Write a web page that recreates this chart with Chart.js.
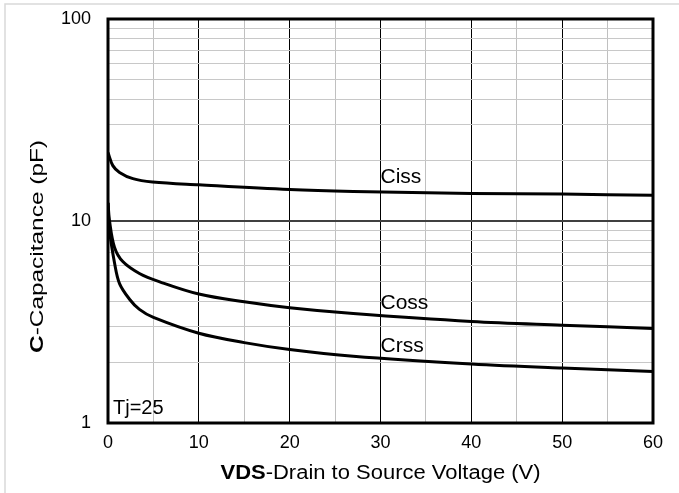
<!DOCTYPE html>
<html>
<head>
<meta charset="utf-8">
<script src="https://cdn.jsdelivr.net/npm/chart.js@4"></script>
<style>
html,body{margin:0;padding:0;background:#fff;}
canvas{display:block;}
</style>
</head>
<body>
<canvas id="c" width="679" height="493"></canvas>
<script>
// ---- data ----
const cissV = [0, 0.53, 1.27, 2.74, 4.9, 10, 20, 27, 40, 50, 60];
const cissC = [21.8, 18.8, 17.4, 16.2, 15.6, 15.1, 14.3, 14.0, 13.7, 13.6, 13.4];
const cossV = [0, 0.17, 0.72, 1.63, 3.46, 5.7, 10, 15, 20, 27, 40, 50, 60];
const cossC = [12.3, 10.0, 7.4, 6.3, 5.5, 5.0, 4.35, 3.98, 3.72, 3.48, 3.18, 3.05, 2.94];
const crssV = [0, 0.17, 0.72, 1.27, 2.37, 3.46, 5.0, 10, 15, 20, 27, 40, 50, 60];
const crssC = [12.3, 9.0, 6.2, 4.9, 4.1, 3.65, 3.33, 2.78, 2.50, 2.31, 2.14, 1.96, 1.87, 1.80];
const seriesNames = ['Ciss', 'Coss', 'Crss'];
const xTickLabels = [0, 10, 20, 30, 40, 50, 60];
const yTickLabels = [1, 10, 100];
const yGridValues = [1,2,3,4,5,6,7,8,9,10,20,30,40,50,60,70,80,90,100];
// label anchors in data units (V, pF)
const labelV = [30, 30, 30];
const labelC = [15.4, 3.67, 2.24];
const noteText = 'Tj=25';
const xTitleBold = 'VDS', xTitleRest = '-Drain to Source Voltage (V)';
const yTitleBold = 'C', yTitleRest = '-Capacitance (pF)';

const FONT = '"Liberation Sans", Arial, sans-serif';
const pts = (xs, ys) => xs.map((x, i) => ({x: x, y: ys[i]}));

const decor = {
  id: 'decor',
  beforeDraw(chart) {
    const ctx = chart.ctx;
    ctx.save();
    ctx.fillStyle = '#fff';
    ctx.fillRect(0, 0, chart.width, chart.height);
    ctx.strokeStyle = '#d9d9d9';
    ctx.lineWidth = 1.5;
    ctx.beginPath();
    ctx.moveTo(5, chart.height);
    ctx.lineTo(5, 4);
    ctx.lineTo(chart.width, 4);
    ctx.stroke();
    ctx.restore();
  },
  afterDatasetsDraw(chart) {
    const ctx = chart.ctx, a = chart.chartArea;
    const xs = chart.scales.x, ys = chart.scales.y;
    ctx.save();
    ctx.strokeStyle = '#000';
    ctx.lineWidth = 3;
    ctx.strokeRect(a.left, a.top, a.right - a.left, a.bottom - a.top);
    ctx.fillStyle = '#000';
    ctx.textBaseline = 'alphabetic';
    ctx.textAlign = 'left';
    ctx.font = '21px ' + FONT;
    seriesNames.forEach((n, i) => {
      ctx.fillText(n, xs.getPixelForValue(labelV[i]), ys.getPixelForValue(labelC[i]));
    });
    ctx.font = '20px ' + FONT;
    ctx.fillText(noteText, a.left + 5, a.bottom - 9);
    ctx.restore();
  },
  afterDraw(chart) {
    const ctx = chart.ctx, a = chart.chartArea;
    ctx.save();
    ctx.fillStyle = '#000';
    ctx.textBaseline = 'alphabetic';
    ctx.font = 'bold 20px ' + FONT;
    const wb = ctx.measureText(xTitleBold).width;
    ctx.font = '20px ' + FONT;
    const wr = ctx.measureText(xTitleRest).width;
    const targetW = 320;
    const sx = targetW / (wb + wr);
    const cx = (a.left + a.right) / 2;
    ctx.translate(cx - targetW / 2, 479);
    ctx.scale(sx, 1);
    ctx.font = 'bold 20px ' + FONT;
    ctx.fillText(xTitleBold, 0, 0);
    ctx.font = '20px ' + FONT;
    ctx.fillText(xTitleRest, wb, 0);
    ctx.restore();
    ctx.save();
    ctx.fillStyle = '#000';
    ctx.font = 'bold 19px ' + FONT;
    const yb = ctx.measureText(yTitleBold).width;
    ctx.font = '19px ' + FONT;
    const yr = ctx.measureText(yTitleRest).width;
    const targetH = 213;
    const sy = targetH / (yb + yr);
    const cy = 246.5;
    ctx.translate(43, cy + targetH / 2);
    ctx.rotate(-Math.PI / 2);
    ctx.scale(sy, 1);
    ctx.font = 'bold 19px ' + FONT;
    ctx.fillText(yTitleBold, 0, 0);
    ctx.font = '19px ' + FONT;
    ctx.fillText(yTitleRest, yb, 0);
    ctx.restore();
  }
};

const ds = (label, data) => ({
  label: label, data: data, borderColor: '#000', borderWidth: 3,
  pointRadius: 0, fill: false, tension: 0.35
});

new Chart(document.getElementById('c'), {
  type: 'line',
  data: {
    datasets: [
      ds(seriesNames[0], pts(cissV, cissC)),
      ds(seriesNames[1], pts(cossV, cossC)),
      ds(seriesNames[2], pts(crssV, crssC))
    ]
  },
  options: {
    responsive: false,
    devicePixelRatio: 1,
    animation: false,
    layout: { padding: { top: 19, right: 26, left: 0, bottom: 0 } },
    plugins: { legend: { display: false }, tooltip: { enabled: false } },
    scales: {
      x: {
        type: 'linear', min: 0, max: 60,
        afterFit(s) { s.height = 70; s.paddingLeft = 0; s.paddingRight = 0; },
        ticks: {
          stepSize: 5, padding: 9, color: '#000', maxRotation: 0, autoSkip: false,
          font: { family: FONT, size: 18 },
          callback: v => xTickLabels.includes(v) ? String(v) : ''
        },
        grid: {
          drawTicks: false,
          color: c => (c.tick && c.tick.value % 10 === 0) ? '#000' : '#c0c0c0',
          lineWidth: 1
        },
        border: { display: false }
      },
      y: {
        type: 'logarithmic', min: 1, max: 100,
        afterFit(s) { s.width = 108; s.paddingTop = 0; s.paddingBottom = 0; },
        afterBuildTicks(s) { s.ticks = yGridValues.map(v => ({ value: v })); },
        ticks: {
          padding: 17, color: '#000', autoSkip: false,
          font: { family: FONT, size: 18 },
          callback: v => yTickLabels.includes(v) ? String(v) : ''
        },
        grid: {
          drawTicks: false,
          color: c => (c.tick && c.tick.value === 10) ? '#404040' : '#c8c8c8',
          lineWidth: c => (c.tick && c.tick.value === 10) ? 2 : 1
        },
        border: { display: false }
      }
    }
  },
  plugins: [decor]
});
</script>
</body>
</html>
